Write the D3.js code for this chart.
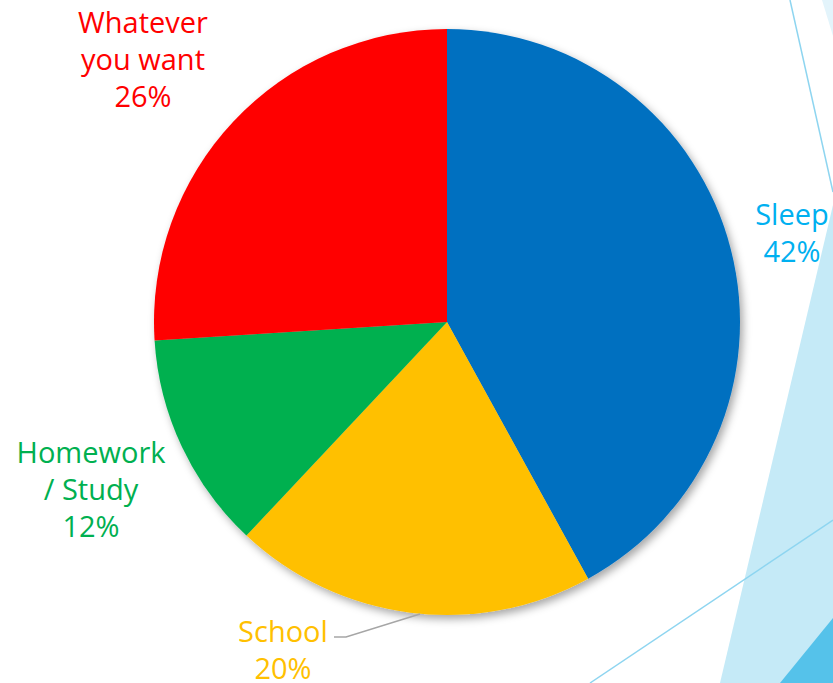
<!DOCTYPE html>
<html>
<head>
<meta charset="utf-8">
<script src="https://cdn.jsdelivr.net/npm/d3@7"></script>
<style>
  body { margin: 0; background: #fff; }
  svg { display: block; }
</style>
</head>
<body>
<svg id="chart" width="833" height="683"></svg>
<script>
// data
const categories = ["Sleep", "School", "Homework / Study", "Whatever you want"]
const values = [42, 20, 12, 26]
const sliceColors = ["#0070C0", "#FFC000", "#00B050", "#FF0000"]
const labelColors = ["#00B0F0", "#FFC000", "#00B050", "#FF0000"]
const labelLines = [["Sleep"], ["School"], ["Homework", "/ Study"], ["Whatever", "you want"]]

const width = 833, height = 683
const cx = 447, cy = 322, radius = 293

const svg = d3.select("#chart")

// background slide decoration
const deco = svg.append("g")
deco.append("polygon").attr("points", "822,0 833,0 833,36").attr("fill", "#E3F4FB")
deco.append("polygon").attr("points", "833,205 833,683 720,683").attr("fill", "#C5EAF7")
deco.append("polygon").attr("points", "833,618 833,683 780,683").attr("fill", "#55C2EA")
deco.append("line").attr("x1", 790).attr("y1", 0).attr("x2", 833).attr("y2", 192)
    .attr("stroke", "#8ED5F0").attr("stroke-width", 1.5)
deco.append("line").attr("x1", 833).attr("y1", 520).attr("x2", 590).attr("y2", 683)
    .attr("stroke", "#8ED5F0").attr("stroke-width", 1.5)

// shadow filter
const defs = svg.append("defs")
const f = defs.append("filter").attr("id", "shadow")
    .attr("x", "-20%").attr("y", "-20%").attr("width", "140%").attr("height", "140%")
f.append("feDropShadow").attr("dx", 3).attr("dy", 4).attr("stdDeviation", 4)
    .attr("flood-color", "#000").attr("flood-opacity", 0.35)

const pieData = categories.map((c, i) => ({ name: c, value: values[i], idx: i }))

const pie = d3.pie().value(d => d.value).sort(null)
const arc = d3.arc().innerRadius(0).outerRadius(radius)

const g = svg.append("g").attr("transform", `translate(${cx}, ${cy})`)

g.append("g").attr("filter", "url(#shadow)")
  .selectAll("path")
  .data(pie(pieData))
  .join("path")
    .attr("d", arc)
    .attr("fill", d => sliceColors[d.data.idx])

// labels (positions)
const labelPos = [
    { x: 792, y: 225 },
    { x: 283, y: 642 },
    { x: 91, y: 463 },
    { x: 143, y: 33 }
]
const lineH = 37

pieData.forEach((d, i) => {
    const lines = labelLines[i].concat([d.value + "%"])
    const t = svg.append("text")
        .attr("text-anchor", "middle")
        .attr("font-family", "'Open Sans', sans-serif")
        .attr("font-size", 29)
        .attr("fill", labelColors[i])
    lines.forEach((ln, j) => {
        t.append("tspan").attr("x", labelPos[i].x).attr("y", labelPos[i].y + j * lineH).text(ln)
    })
})

// leader line for School
const schoolArc = pie(pieData)[1]
const mid = (schoolArc.startAngle + schoolArc.endAngle) / 2
svg.append("polyline")
    .attr("points", `334,637 346,637 420,614`)
    .attr("fill", "none")
    .attr("stroke", "#A6A6A6")
    .attr("stroke-width", 1.5)
</script>
</body>
</html>
